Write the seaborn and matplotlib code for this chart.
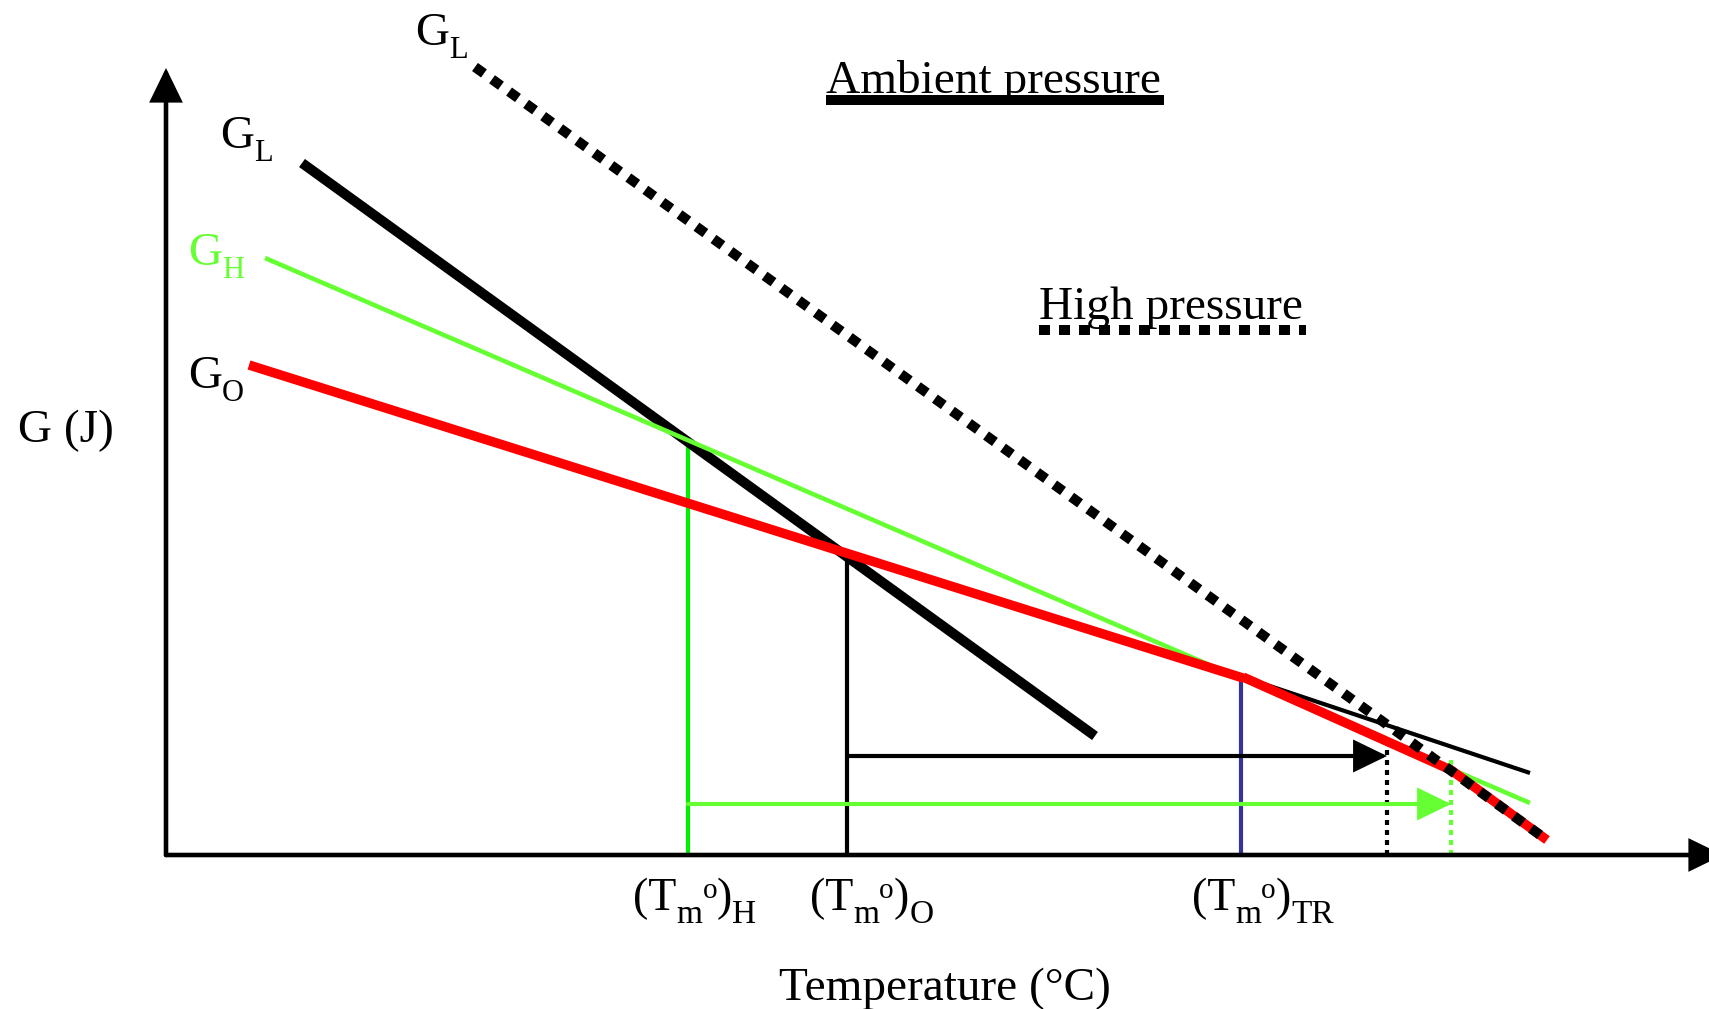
import matplotlib
matplotlib.use("Agg")
import matplotlib.pyplot as plt
import seaborn as sns

# Free-energy lines (temperature, G) in arbitrary schematic units
gl_amb_T = [13.6, 92.9]      # liquid, ambient pressure
gl_amb_G = [69.2, 11.9]
gh_T = [9.9, 136.4]          # hexagonal phase
gh_G = [59.7, 5.2]
go_T = [8.3, 107.7]          # orthorhombic phase
go_G = [49.0, 17.7]
go_ext_T = [107.7, 136.4]    # orthorhombic beyond the transition
go_ext_G = [17.8, 8.2]
gl_hp_T = [30.9, 138.1]      # liquid, high pressure
gl_hp_G = [78.8, 1.5]
stable_hp_T = [107.7, 128.5, 138.1]
stable_hp_G = [17.8, 8.5, 1.5]

# Characteristic temperatures and the G values where the drop lines start
tm_H, tm_O, tm_TR = 52.2, 68.1, 107.5
tm_H_top, tm_O_top, tm_TR_top = 41.2, 29.5, 17.8
tm_O_hp, tm_H_hp = 122.1, 128.5
tm_O_hp_top, tm_H_hp_top = 10.8, 9.8
shift_O_G, shift_H_G = 9.9, 5.1

GREEN_LINE = "#66ff33"
GREEN_DROP = "#00ee00"
BLUE = "#333399"
RED = "#ff0000"

sns.set_theme(style="white")
plt.rcParams["font.family"] = ["Liberation Serif", "DejaVu Serif"]
plt.rcParams["text.color"] = "black"

fig = plt.figure(figsize=(17.09, 10.09), dpi=100)
ax = fig.add_axes([0, 0, 1, 1])
ax.set_xlim(-16.6, 154.3)
ax.set_ylim(-15.4, 85.5)
ax.axis("off")
renderer = fig.canvas.get_renderer()


def seg(x, y, color, lw, z, dashes=None):
    sns.lineplot(x=x, y=y, ax=ax, color=color, linewidth=lw, sort=False,
                 estimator=None, legend=False, zorder=z)
    line = ax.lines[-1]
    line.set_solid_capstyle("butt")
    line.set_dash_capstyle("butt")
    if dashes is not None:
        line.set_dashes(dashes)
    return line


def arrow(x0, y0, x1, y1, color, lw, z):
    ax.annotate("", xy=(x1, y1), xytext=(x0, y0), annotation_clip=False,
                arrowprops=dict(arrowstyle="-|>,head_length=1.95,head_width=0.95",
                                mutation_scale=10, color=color, lw=lw,
                                shrinkA=0, shrinkB=0, joinstyle="miter"),
                zorder=z)


def rich(x, y, parts, color="black"):
    """Lay out text pieces (text, size, baseline shift in pt) left to right."""
    offset = 0.0
    for s, size, dy in parts:
        t = ax.annotate(s, xy=(x, y), xytext=(offset * 72 / fig.dpi, dy),
                        textcoords="offset points", fontsize=size, color=color,
                        va="baseline", ha="left", annotation_clip=False)
        offset += t.get_window_extent(renderer).width


# Axes with arrowheads
arrow(0, 0, 0, 78.7, "black", 3.3, 6)
arrow(0, 0, 155.7, 0, "black", 3.3, 6)

# Drop lines to the temperature axis
seg([tm_H, tm_H], [0, tm_H_top], GREEN_DROP, 3.0, 2)
seg([tm_O, tm_O], [0, tm_O_top], "black", 3.0, 2)
seg([tm_TR, tm_TR], [0, tm_TR_top], BLUE, 3.0, 2)
seg([tm_O_hp, tm_O_hp], [0, tm_O_hp_top], "black", 3.0, 2, dashes=(1.2, 1.2))
seg([tm_H_hp, tm_H_hp], [0, tm_H_hp_top], GREEN_LINE, 3.0, 2, dashes=(1.2, 1.2))

# Shift of the melting points under pressure
arrow(tm_O, shift_O_G, tm_O_hp, shift_O_G, "black", 3.0, 3)
arrow(tm_H, shift_H_G, tm_H_hp, shift_H_G, GREEN_LINE, 3.0, 3)

# Free-energy lines
seg(gl_amb_T, gl_amb_G, "black", 7.2, 4)
seg(gh_T, gh_G, GREEN_LINE, 3.3, 5)
seg(go_ext_T, go_ext_G, "black", 3.0, 5)
seg(go_T, go_G, RED, 6.8, 6)
seg(stable_hp_T, stable_hp_G, RED, 6.8, 6)
seg(gl_hp_T, gl_hp_G, "black", 7.2, 7, dashes=(1.1, 1.0))

# Key lines under the pressure captions
seg([66.0, 99.8], [75.5, 75.5], "black", 7.2, 7)
seg([87.3, 114.0], [52.5, 52.5], "black", 7.2, 7, dashes=(1.1, 0.9))

fs = 34
sub = 22
drop = -9.5
ax.text(66.0, 76.2, "Ambient pressure", fontsize=fs, va="baseline", ha="left")
ax.text(87.3, 53.6, "High pressure", fontsize=fs, va="baseline", ha="left")
ax.text(-14.8, 41.3, "G (J)", fontsize=fs, va="baseline", ha="left")
rich(24.9, 81.0, [("G", fs, 0), ("L", sub, drop)])
rich(5.4, 70.7, [("G", fs, 0), ("L", sub, drop)])
rich(2.2, 59.0, [("G", fs, 0), ("H", sub, drop)], color=GREEN_LINE)
rich(2.2, 46.7, [("G", fs, 0), ("O", sub, drop)])

tfs, tsub, tsup = 33, 24, 21
for x0, s in [(46.7, "H"), (64.4, "O"), (102.6, "TR")]:
    rich(x0, -5.5, [("(T", tfs, 0), ("m", tsub, -9.4), ("o", tsup, 8.6),
                    (")", tfs, 0), (s, tsub, -9.4)])
ax.text(77.9, -14.5, "Temperature (°C)", fontsize=fs, va="baseline", ha="center")

fig.savefig("out.png", dpi=100)
